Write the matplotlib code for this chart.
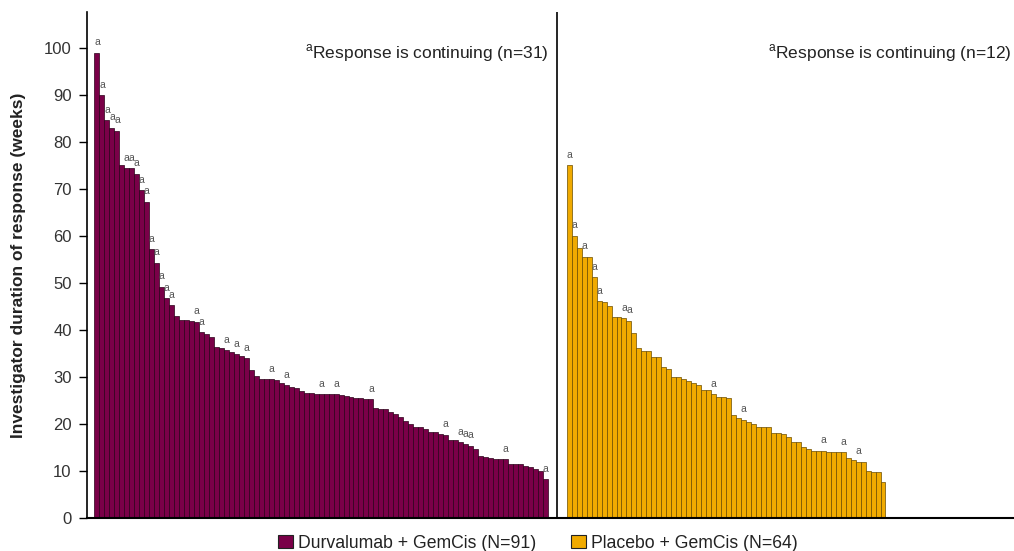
import matplotlib
matplotlib.use("Agg")
import matplotlib.pyplot as plt
from matplotlib.patches import Patch

plt.rcParams['font.family'] = ['Liberation Sans', 'DejaVu Sans']
plt.rcParams['mathtext.fontset'] = 'custom'
plt.rcParams['mathtext.rm'] = 'Liberation Sans'

# ---- data ----
durva_values = [99.0, 90.0, 84.7, 83.1, 82.4, 75.1, 74.4, 74.4, 73.3, 69.8,
                67.3, 57.2, 54.3, 49.2, 46.8, 45.3, 43.0, 42.1, 42.1, 42.0,
                41.8, 39.6, 39.1, 38.6, 36.5, 36.1, 35.7, 35.4, 34.9, 34.5,
                34.0, 31.5, 30.2, 29.5, 29.5, 29.5, 29.4, 28.7, 28.3, 27.9,
                27.6, 27.1, 26.7, 26.5, 26.4, 26.4, 26.4, 26.4, 26.4, 26.2,
                26.0, 25.7, 25.5, 25.5, 25.3, 25.3, 23.5, 23.2, 23.1, 22.6,
                22.1, 21.6, 20.7, 20.1, 19.4, 19.4, 18.9, 18.2, 18.2, 17.9,
                17.7, 16.7, 16.5, 16.1, 15.7, 15.4, 14.7, 13.2, 13.0, 12.7,
                12.5, 12.5, 12.5, 11.4, 11.4, 11.4, 11.1, 10.8, 10.4, 10.0,
                8.2]
durva_continuing = [1, 2, 3, 4, 5, 7, 8, 9, 10, 11, 12, 13, 14, 15, 16, 21, 22,
                    27, 29, 31, 36, 39, 46, 49, 56, 71, 74, 75, 76, 83, 91]

placebo_values = [75.1, 60.1, 57.4, 55.6, 55.6, 51.3, 46.2, 45.9, 45.2, 42.8,
                  42.8, 42.5, 42.0, 39.4, 36.2, 35.6, 35.6, 34.3, 34.3, 32.2,
                  31.7, 30.1, 30.1, 29.5, 29.1, 28.8, 28.3, 27.2, 27.2, 26.4,
                  25.8, 25.8, 25.5, 21.9, 21.2, 20.9, 20.5, 20.1, 19.4, 19.4,
                  19.4, 18.1, 18.1, 17.9, 17.2, 16.2, 16.2, 15.2, 14.7, 14.3,
                  14.3, 14.3, 14.0, 14.0, 14.0, 14.0, 12.7, 12.3, 12.0, 12.0,
                  10.1, 9.7, 9.7, 7.6]
placebo_continuing = [1, 2, 4, 6, 7, 12, 13, 30, 36, 52, 56, 59]

yticks = [0, 10, 20, 30, 40, 50, 60, 70, 80, 90, 100]
durva_label = "Durvalumab + GemCis (N=91)"
placebo_label = "Placebo + GemCis (N=64)"
durva_note = r"$^{\mathrm{a}}$Response is continuing (n=31)"
placebo_note = r"$^{\mathrm{a}}$Response is continuing (n=12)"

durva_color = "#7a0048"
durva_edge = "#2a0018"
placebo_color = "#f0aa00"
placebo_edge = "#6a4c00"

# ---- figure ----
W, H = 1014, 551
ax_left_px = 87
fig = plt.figure(figsize=(W / 100, H / 100), dpi=100)
ax = fig.add_axes([ax_left_px / W, 33 / H, 1 - ax_left_px / W, (518 - 12) / H])

right_offset = 94.8
divider_x = 92.9

x_left = [i + 0.5 for i in range(len(durva_values))]
x_right = [right_offset + j + 0.5 for j in range(len(placebo_values))]

ax.bar(x_left, durva_values, width=1.0, color=durva_color,
       edgecolor=durva_edge, linewidth=0.5)
ax.bar(x_right, placebo_values, width=1.0, color=placebo_color,
       edgecolor=placebo_edge, linewidth=0.5)

for k in durva_continuing:
    ax.annotate('a', xy=(x_left[k - 1], durva_values[k - 1]), xytext=(0, 7.5),
                textcoords='offset points', ha='center', va='center',
                fontsize=7.5, color='#555555')
for k in placebo_continuing:
    ax.annotate('a', xy=(x_right[k - 1], placebo_values[k - 1]), xytext=(0, 7.5),
                textcoords='offset points', ha='center', va='center',
                fontsize=7.5, color='#555555')

ax.axvline(divider_x, color='black', linewidth=1.2)

ax.set_xlim(-1.5, 184.6)
ax.set_ylim(0, 107.7)
ax.set_xticks([])
ax.set_yticks(yticks)
ax.tick_params(axis='y', labelsize=12, length=6, width=1, colors='black',
               labelcolor='#333333', pad=5)
for s in ['top', 'right']:
    ax.spines[s].set_visible(False)
ax.spines['left'].set_linewidth(1.2)
ax.spines['bottom'].set_linewidth(1.5)

ax.set_ylabel("Investigator duration of response (weeks)", fontsize=12.5,
              fontweight='bold', color='#222222')
ax.yaxis.set_label_coords((26 - ax_left_px) / (W - ax_left_px), 0.5)

ax.text(divider_x - 1.8, 99.0, durva_note, ha='right', va='center',
        fontsize=12.5, color='#222222')
ax.text(184.2, 99.0, placebo_note, ha='right', va='center',
        fontsize=12.5, color='#222222')

handles = [Patch(facecolor=durva_color, edgecolor='#222222', linewidth=0.8),
           Patch(facecolor=placebo_color, edgecolor='#222222', linewidth=0.8)]
fig.legend(handles, [durva_label, placebo_label], loc='center',
           bbox_to_anchor=(538 / W, 1 - 543 / H), ncol=2, frameon=False,
           fontsize=12.7, handlelength=0.8, handleheight=0.8, handletextpad=0.3,
           columnspacing=2.0, labelcolor='#222222')

fig.savefig("out.png", dpi=100)
